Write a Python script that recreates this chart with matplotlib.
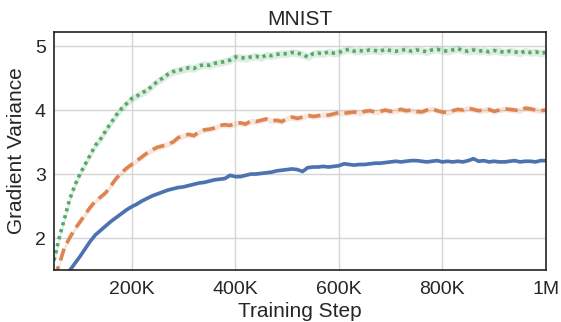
import numpy as np
import matplotlib
matplotlib.use("Agg")
import matplotlib.pyplot as plt

# training steps (every 10K from 50K to 1M)
steps = np.arange(50_000, 1_000_001, 10_000)

green = [1.65, 2.00, 2.30, 2.60, 2.82, 3.00, 3.15, 3.30, 3.45, 3.55,
         3.68, 3.80, 3.92, 4.02, 4.10, 4.18, 4.22, 4.27, 4.31, 4.38,
         4.45, 4.50, 4.56, 4.60, 4.62, 4.64, 4.66, 4.65, 4.69, 4.71,
         4.70, 4.73, 4.74, 4.76, 4.78, 4.83, 4.82, 4.81, 4.83, 4.84,
         4.82, 4.86, 4.85, 4.87, 4.88, 4.88, 4.90, 4.89, 4.87, 4.83,
         4.88, 4.89, 4.88, 4.91, 4.89, 4.90, 4.93, 4.95, 4.92, 4.93,
         4.92, 4.94, 4.93, 4.92, 4.95, 4.93, 4.92, 4.93, 4.95, 4.92,
         4.94, 4.93, 4.91, 4.94, 4.95, 4.93, 4.92, 4.94, 4.96, 4.93,
         4.92, 4.94, 4.92, 4.93, 4.91, 4.93, 4.92, 4.90, 4.92, 4.91,
         4.89, 4.92, 4.90, 4.91, 4.89, 4.90]

orange = [1.38, 1.58, 1.85, 2.00, 2.14, 2.25, 2.37, 2.48, 2.58, 2.64,
          2.71, 2.82, 2.93, 3.02, 3.09, 3.15, 3.21, 3.27, 3.33, 3.38,
          3.42, 3.44, 3.47, 3.50, 3.57, 3.60, 3.62, 3.60, 3.66, 3.69,
          3.70, 3.72, 3.76, 3.77, 3.76, 3.79, 3.80, 3.78, 3.83, 3.82,
          3.84, 3.86, 3.83, 3.84, 3.82, 3.87, 3.89, 3.87, 3.89, 3.92,
          3.90, 3.91, 3.93, 3.92, 3.94, 3.96, 3.95, 3.96, 3.97, 3.95,
          3.98, 3.99, 3.97, 3.98, 4.00, 3.98, 3.99, 4.01, 3.99, 4.00,
          3.98, 3.97, 4.00, 4.02, 3.99, 3.97, 3.96, 3.99, 4.01, 4.00,
          4.03, 4.01, 3.99, 4.00, 4.01, 3.98, 4.00, 4.02, 4.01, 4.00,
          3.99, 4.03, 4.02, 4.00, 3.99, 4.00]

blue = [1.05, 1.22, 1.38, 1.49, 1.60, 1.71, 1.83, 1.95, 2.05, 2.12,
        2.19, 2.26, 2.32, 2.38, 2.44, 2.49, 2.53, 2.58, 2.62, 2.66,
        2.69, 2.72, 2.75, 2.77, 2.79, 2.80, 2.82, 2.84, 2.86, 2.87,
        2.89, 2.91, 2.92, 2.93, 2.98, 2.96, 2.96, 2.98, 3.00, 3.00,
        3.01, 3.02, 3.03, 3.05, 3.06, 3.07, 3.08, 3.07, 3.04, 3.10,
        3.11, 3.11, 3.12, 3.11, 3.12, 3.13, 3.16, 3.15, 3.14, 3.15,
        3.15, 3.16, 3.17, 3.17, 3.18, 3.19, 3.20, 3.19, 3.20, 3.21,
        3.21, 3.20, 3.19, 3.20, 3.21, 3.19, 3.20, 3.19, 3.20, 3.19,
        3.21, 3.24, 3.20, 3.21, 3.19, 3.20, 3.19, 3.19, 3.20, 3.21,
        3.19, 3.20, 3.20, 3.19, 3.21, 3.21]

# half-width of the shaded bands
spread = {"green": 0.06, "orange": 0.045, "blue": 0.025}

xticks = [200_000, 400_000, 600_000, 800_000, 1_000_000]
xticklabels = ["200K", "400K", "600K", "800K", "1M"]
yticks = [2, 3, 4, 5]

plt.rcParams["font.family"] = ["Liberation Sans", "DejaVu Sans"]
plt.rcParams["text.color"] = "#262626"
plt.rcParams["xtick.color"] = "#262626"
plt.rcParams["ytick.color"] = "#262626"
plt.rcParams["axes.labelcolor"] = "#262626"

fig = plt.figure(figsize=(5.61, 3.22), dpi=100)
ax = fig.add_axes([0.0963, 0.1615, 0.8767, 0.7391])

series = [
    (blue, "#4C72B0", "-", "blue"),
    (orange, "#DD8452", (0, (3.4, 1.7)), "orange"),
    (green, "#55A868", (0, (0.9, 1.1)), "green"),
]
for vals, col, ls, key in series:
    v = np.array(vals)
    s = spread[key]
    ax.fill_between(steps, v - s, v + s, color=col, alpha=0.2, lw=0)
    ax.plot(steps, v, color=col, linestyle=ls, lw=2.6)

ax.set_xlim(50_000, 1_000_000)
ax.set_ylim(1.5, 5.22)
ax.set_xticks(xticks)
ax.set_xticklabels(xticklabels)
ax.set_yticks(yticks)
ax.tick_params(axis="x", labelsize=14, length=0, pad=8)
ax.tick_params(axis="y", labelsize=14, length=0, pad=6)
ax.grid(True, color="#d5d5d5", lw=1)
ax.set_axisbelow(True)
for sp in ax.spines.values():
    sp.set_color("#222222")
    sp.set_linewidth(1.2)

ax.set_xlabel("Training Step", fontsize=15, labelpad=3)
ax.set_ylabel("Gradient Variance", fontsize=15, labelpad=6)
ax.set_title("MNIST", fontsize=15, pad=5)

fig.savefig("out.png", dpi=100)
